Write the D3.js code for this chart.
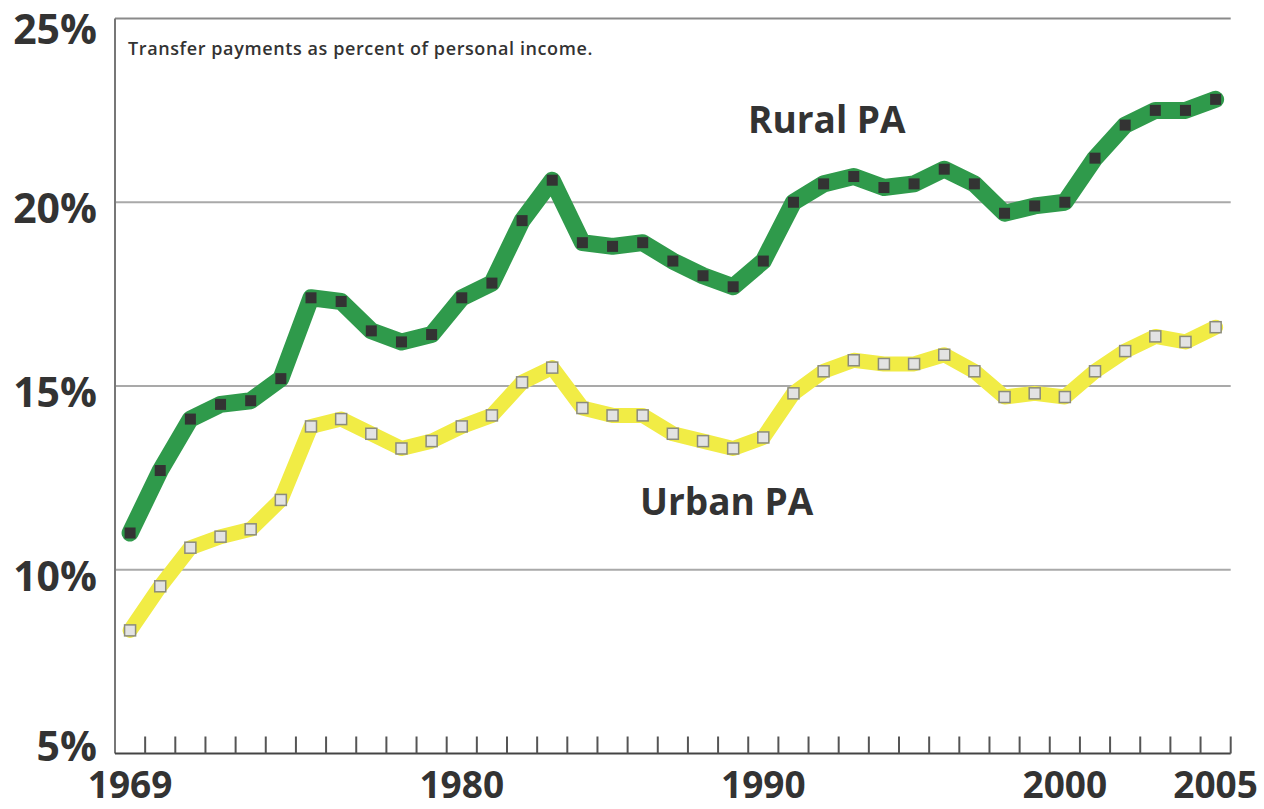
<!DOCTYPE html>
<html>
<head>
<meta charset="utf-8">
<script src="https://cdn.jsdelivr.net/npm/d3@7"></script>
<style>
  body { margin: 0; background: #fff; }
  svg { display: block; font-family: "Open Sans", sans-serif; }
</style>
</head>
<body>
<div id="chart"></div>
<script>
/* years on the x axis, one band per year */
const years = d3.range(1969, 2006);
const yearLabels = [1969, 1980, 1990, 2000, 2005];
const pctTicks = [5, 10, 15, 20, 25];

/* transfer payments as percent of personal income */
const rural = [11.0, 12.7, 14.1, 14.5, 14.6, 15.2, 17.4, 17.3, 16.5, 16.2, 16.4, 17.4, 17.8,
  19.5, 20.6, 18.9, 18.8, 18.9, 18.4, 18.0, 17.7, 18.4, 20.0, 20.5, 20.7, 20.4, 20.5, 20.9,
  20.5, 19.7, 19.9, 20.0, 21.2, 22.1, 22.5, 22.5, 22.8];
const urban = [8.35, 9.55, 10.6, 10.9, 11.1, 11.9, 13.9, 14.1, 13.7, 13.3, 13.5, 13.9, 14.2,
  15.1, 15.5, 14.4, 14.2, 14.2, 13.7, 13.5, 13.3, 13.6, 14.8, 15.4, 15.7, 15.6, 15.6, 15.85,
  15.4, 14.7, 14.8, 14.7, 15.4, 15.95, 16.35, 16.2, 16.6];

const width = 1264, height = 809;

const svg = d3.select("#chart").append("svg")
	.attr("width", width)
	.attr("height", height);

const x = d3.scaleBand().domain(years).range([115, 1230.7]);
const y = d3.scaleLinear().domain([5, 25]).range([753.5, 18.5]);
const bw = x.bandwidth();
const cx = (yr) => x(yr) + bw / 2;

/* grid lines (25% is the top frame) */
svg.append("g").attr("class", "grid")
	.selectAll("line")
	.data(pctTicks.filter((d) => d > 5))
	.join("line")
		.attr("x1", x.range()[0])
		.attr("x2", x.range()[1])
		.attr("y1", (d) => y(d))
		.attr("y2", (d) => y(d))
		.style("stroke", (d) => d === 25 ? "#8a8a8a" : "#a9a9a9")
		.style("stroke-width", 2);

/* left axis line */
svg.append("line")
	.attr("x1", 115).attr("x2", 115)
	.attr("y1", y(25)).attr("y2", y(5))
	.style("stroke", "#777")
	.style("stroke-width", 2);

/* bottom axis with upward ticks at the band edges */
svg.append("line")
	.attr("x1", 115).attr("x2", x.range()[1])
	.attr("y1", y(5)).attr("y2", y(5))
	.style("stroke", "#444")
	.style("stroke-width", 2);

svg.append("g").attr("class", "ticks")
	.selectAll("line")
	.data(years)
	.join("line")
		.attr("x1", (d) => x(d) + bw)
		.attr("x2", (d) => x(d) + bw)
		.attr("y1", y(5))
		.attr("y2", y(5) - 17)
		.style("stroke", "#555")
		.style("stroke-width", 2);

/* x labels */
svg.append("g").attr("class", "xlabels")
	.selectAll("text")
	.data(yearLabels)
	.join("text")
		.attr("x", (d) => cx(d))
		.attr("y", 798)
		.attr("text-anchor", "middle")
		.attr("font-size", "37px")
		.attr("font-weight", 700)
		.attr("fill", "#333")
		.text((d) => d);

/* y labels; 5% sits above the axis, 25% is nudged to stay inside the page */
const yLabelPos = (d) => d === 5 ? y(d) + 7 : d === 25 ? 44 : y(d) + 21;

svg.append("g").attr("class", "ylabels")
	.selectAll("text")
	.data(pctTicks)
	.join("text")
		.attr("x", 97)
		.attr("y", yLabelPos)
		.attr("text-anchor", "end")
		.attr("font-size", "41px")
		.attr("font-weight", 700)
		.attr("fill", "#333")
		.text((d) => d + "%");

svg.append("text")
	.attr("x", 128)
	.attr("y", 55)
	.attr("font-size", "18px")
	.attr("font-weight", 600)
	.attr("letter-spacing", "0.6px")
	.attr("fill", "#333")
	.text("Transfer payments as percent of personal income.");

/* series */
const series = [
	{ name: "Rural PA", values: rural, color: "#2f9a4b", lineWidth: 17, marker: "#333", markerStroke: "none", lx: 748, ly: 133 },
	{ name: "Urban PA", values: urban, color: "#f1ec45", lineWidth: 15, marker: "#e3e3e3", markerStroke: "#8c8c7a", lx: 640, ly: 515 }
];

const line = d3.line()
	.x((d) => cx(d.year))
	.y((d) => y(d.value));

const m = 11;

series.forEach((s) => {
	const pts = years.map((yr, i) => ({ year: yr, value: s.values[i] }));
	const g = svg.append("g").attr("class", "series");

	g.append("path")
		.datum(pts)
		.attr("d", line)
		.style("fill", "none")
		.style("stroke", s.color)
		.style("stroke-width", s.lineWidth)
		.style("stroke-linejoin", "round")
		.style("stroke-linecap", "round");

	g.selectAll("rect")
		.data(pts)
		.join("rect")
			.attr("x", (d) => cx(d.year) - m / 2)
			.attr("y", (d) => y(d.value) - m / 2)
			.attr("width", m)
			.attr("height", m)
			.style("fill", s.marker)
			.style("stroke", s.markerStroke)
			.style("stroke-width", 1.5);

	svg.append("text")
		.attr("x", s.lx)
		.attr("y", s.ly)
		.attr("font-size", "37px")
		.attr("font-weight", 700)
		.attr("fill", "#333")
		.text(s.name);
});
</script>
</body>
</html>
